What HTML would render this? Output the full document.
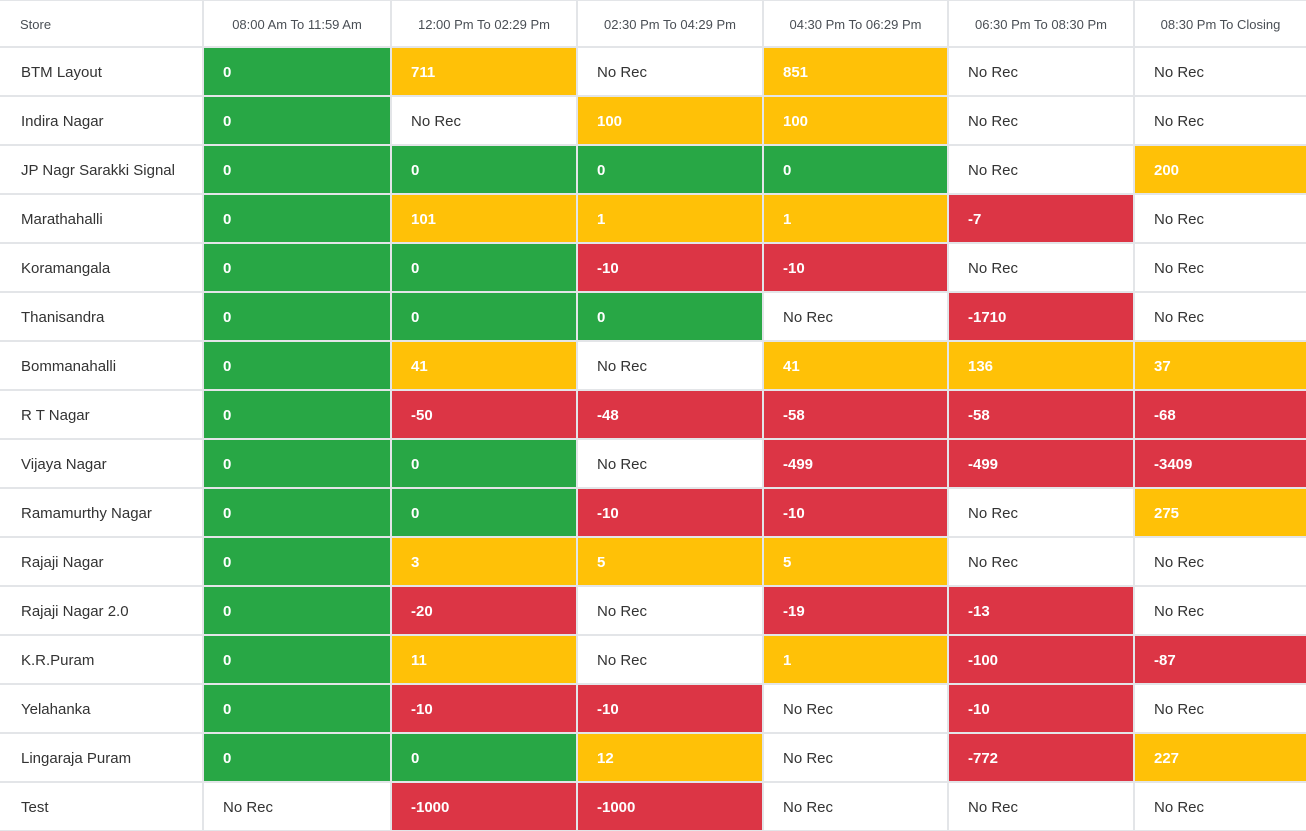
<!DOCTYPE html>
<html><head><meta charset="utf-8"><style>
body{margin:0;background:#fff;width:1306px;height:831px;overflow:hidden;font-family:"Liberation Sans",sans-serif}
#t{position:absolute;left:0;top:0;width:1306px;height:831px;background:#e3e5e8}
.c{position:absolute;box-sizing:border-box;display:flex;align-items:center;padding-left:19px;padding-top:2px;font-size:15px;color:#333}
.h{justify-content:center;padding-left:0;font-size:13px;color:#4a4f55}
.g{background:#28a745;color:#fff}.y{background:#ffc107;color:#fff}.r{background:#dc3545;color:#fff}.w{background:#fff}
</style></head><body>
<div id="t"></div>
<script>
const headers=["Store","08:00 Am To 11:59 Am","12:00 Pm To 02:29 Pm","02:30 Pm To 04:29 Pm","04:30 Pm To 06:29 Pm","06:30 Pm To 08:30 Pm","08:30 Pm To Closing"];
const stores=["BTM Layout","Indira Nagar","JP Nagr Sarakki Signal","Marathahalli","Koramangala","Thanisandra","Bommanahalli","R T Nagar","Vijaya Nagar","Ramamurthy Nagar","Rajaji Nagar","Rajaji Nagar 2.0","K.R.Puram","Yelahanka","Lingaraja Puram","Test"];
const values=[
[0,711,null,851,null,null],
[0,null,100,100,null,null],
[0,0,0,0,null,200],
[0,101,1,1,-7,null],
[0,0,-10,-10,null,null],
[0,0,0,null,-1710,null],
[0,41,null,41,136,37],
[0,-50,-48,-58,-58,-68],
[0,0,null,-499,-499,-3409],
[0,0,-10,-10,null,275],
[0,3,5,5,null,null],
[0,-20,null,-19,-13,null],
[0,11,null,1,-100,-87],
[0,-10,-10,null,-10,null],
[0,0,12,null,-772,227],
[null,-1000,-1000,null,null,null]];
const xs=[0,202,390,576,762,947,1133,1306];
const t=document.getElementById('t');
function cell(x0,x1,y0,y1,txt,cls){const d=document.createElement('div');d.className='c '+cls;
d.style.left=(x0+(x0?2:0))+'px';d.style.top=(y0+2)+'px';d.style.width=(x1-x0-(x0?2:0))+'px';d.style.height=(y1-y0-2)+'px';d.textContent=txt;t.appendChild(d);return d;}
headers.forEach((h,i)=>{const d=cell(xs[i],xs[i+1],-1,46,h,'h w');


if(i===0){d.style.justifyContent='flex-start';d.style.paddingLeft='20px';}});
stores.forEach((s,r)=>{const y0=46+49*r,y1=y0+49;
const d=cell(0,202,y0,y1,s,'w');
d.style.paddingLeft='21px';


values[r].forEach((v,c)=>{const cls=v===null?'w':v===0?'g':v>0?'y':'r';
const e=cell(xs[c+1],xs[c+2],y0,y1,v===null?'No Rec':String(v),cls);
if(v!==null)e.style.fontWeight='bold';

});});
</script></body></html>
